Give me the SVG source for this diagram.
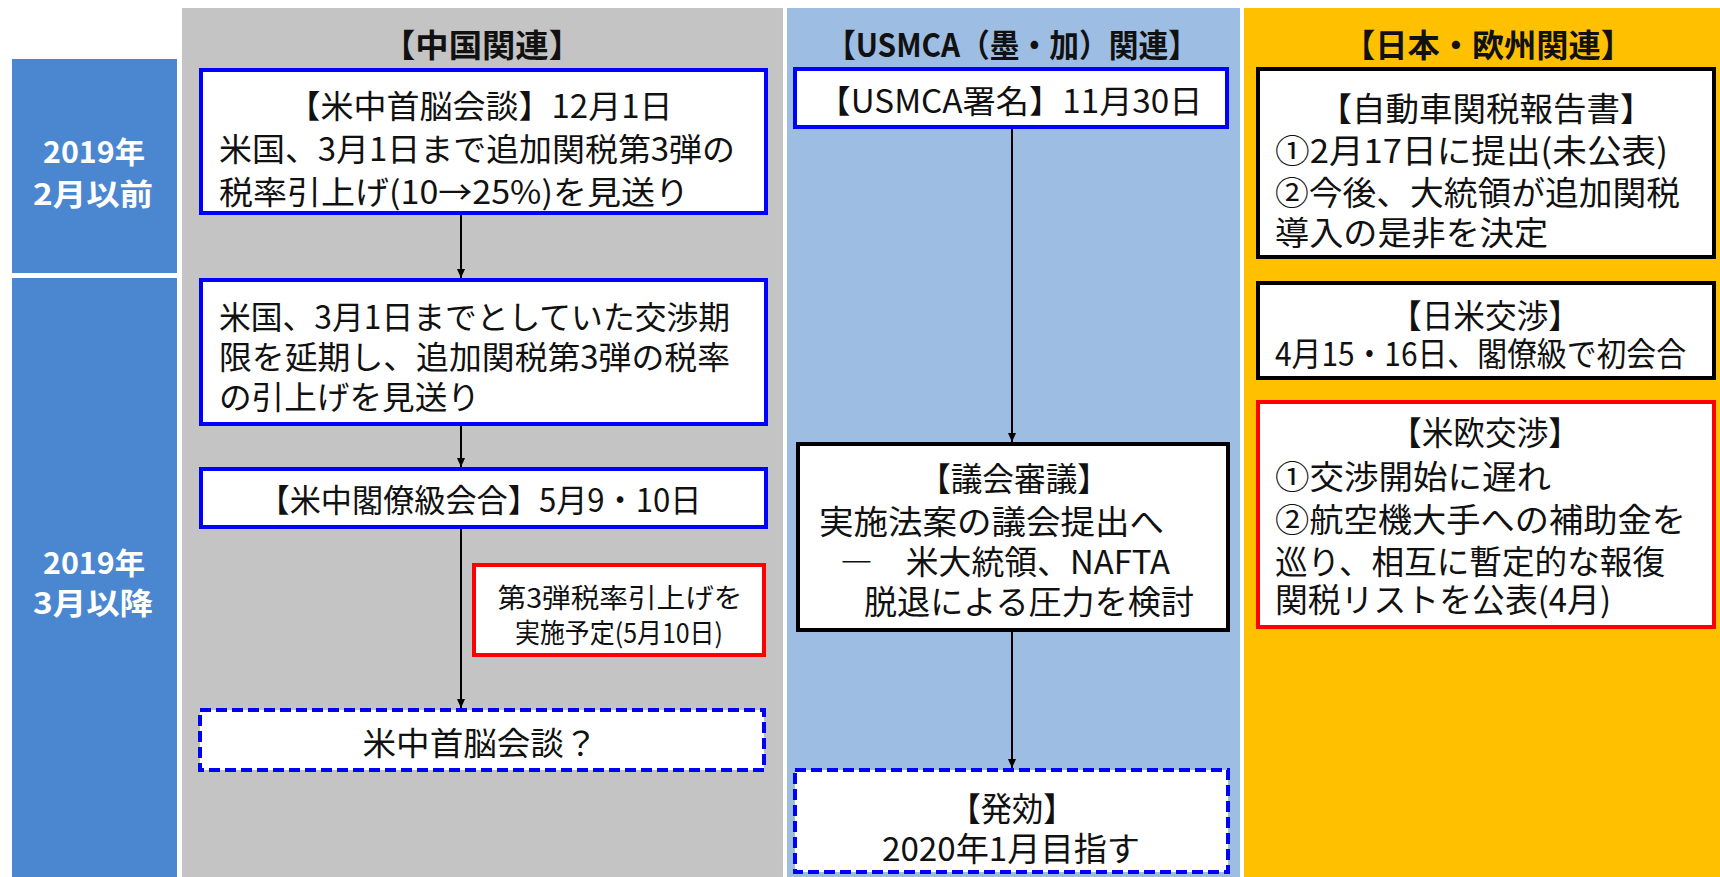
<svg xmlns="http://www.w3.org/2000/svg" width="1720" height="877" viewBox="0 0 1720 877">
<style>
text{font-family:"Noto Sans CJK JP","Noto Sans",sans-serif;fill:#111;dominant-baseline:central}
.hdr{font-size:32px;font-weight:bold;text-anchor:middle}
.lbl{font-size:30px;font-weight:bold;fill:#fff;text-anchor:middle}
.t32{font-size:32px}
.t33{font-size:33px}
.t27{font-size:27px}
.c{text-anchor:middle}
.box{fill:#fff;stroke-width:4}
.bl{stroke:#0000ff}
.bk{stroke:#000}
.rd{stroke:#ff0000}
.ds{stroke:#0000ff;stroke-dasharray:11 5}
.conn{stroke:#000;stroke-width:2;fill:none;marker-end:url(#ah)}
</style>
<defs>
<marker id="ah" markerUnits="userSpaceOnUse" markerWidth="10" markerHeight="10" refX="9" refY="5" orient="auto">
<path d="M0,1 L9,5 L0,9 Z" fill="#000"/>
</marker>
</defs>
<rect x="0" y="0" width="1720" height="877" fill="#fff"/>
<g id="columns">
<rect x="182" y="8" width="601" height="869" fill="#c4c4c4"/>
<rect x="787" y="8" width="453" height="869" fill="#9dbde2"/>
<rect x="1244" y="8" width="476" height="869" fill="#ffc000"/>
<text class="hdr" x="482" y="43" textLength="200" lengthAdjust="spacingAndGlyphs">【中国関連】</text>
<text class="hdr" x="1012" y="43" textLength="372" lengthAdjust="spacingAndGlyphs">【USMCA（墨・加）関連】</text>
<text class="hdr" x="1488" y="43" textLength="290" lengthAdjust="spacingAndGlyphs">【日本・欧州関連】</text>
</g>
<g id="label-before">
<rect x="12" y="59" width="165" height="214" fill="#4b87d0"/>
<text class="lbl" x="94" y="150" textLength="102" lengthAdjust="spacingAndGlyphs">2019年</text>
<text class="lbl" x="93" y="192" textLength="120" lengthAdjust="spacingAndGlyphs">2月以前</text>
</g>
<g id="label-after">
<rect x="12" y="278" width="165" height="599" fill="#4b87d0"/>
<text class="lbl" x="94" y="561" textLength="102" lengthAdjust="spacingAndGlyphs">2019年</text>
<text class="lbl" x="93" y="601" textLength="120" lengthAdjust="spacingAndGlyphs">3月以降</text>
</g>
<g id="connectors">
<line class="conn" x1="461" y1="215" x2="461" y2="278"/>
<line class="conn" x1="461" y1="426" x2="461" y2="467"/>
<line class="conn" x1="461" y1="529" x2="461" y2="708"/>
<line class="conn" x1="1012" y1="129" x2="1012" y2="442"/>
<line class="conn" x1="1012" y1="632" x2="1012" y2="768"/>
</g>
<g id="n-summit-dec">
<rect class="box bl" x="201" y="70" width="565" height="143"/>
<text class="t32 c" x="480" y="104" textLength="385" lengthAdjust="spacingAndGlyphs">【米中首脳会談】12月1日</text>
<text class="t32" x="219" y="147" textLength="516" lengthAdjust="spacingAndGlyphs">米国、3月1日まで追加関税第3弾の</text>
<text class="t32" x="219" y="190" textLength="470" lengthAdjust="spacingAndGlyphs">税率引上げ(10→25%)を見送り</text>
</g>
<g id="n-extend">
<rect class="box bl" x="201" y="280" width="565" height="144"/>
<text class="t32" x="219" y="315" textLength="511" lengthAdjust="spacingAndGlyphs">米国、3月1日までとしていた交渉期</text>
<text class="t32" x="219" y="355" textLength="511" lengthAdjust="spacingAndGlyphs">限を延期し、追加関税第3弾の税率</text>
<text class="t32" x="219" y="395" textLength="261" lengthAdjust="spacingAndGlyphs">の引上げを見送り</text>
</g>
<g id="n-ministerial">
<rect class="box bl" x="201" y="469" width="565" height="58"/>
<text class="t32 c" x="480" y="498" textLength="443" lengthAdjust="spacingAndGlyphs">【米中閣僚級会合】5月9・10日</text>
</g>
<g id="n-tariff-plan">
<rect class="box rd" x="474" y="565" width="290" height="90"/>
<text class="t27 c" x="620" y="596" textLength="245" lengthAdjust="spacingAndGlyphs">第3弾税率引上げを</text>
<text class="t27 c" x="619" y="631" textLength="208" lengthAdjust="spacingAndGlyphs">実施予定(5月10日)</text>
</g>
<g id="n-summit-next">
<rect class="box ds" x="200" y="710" width="564" height="60"/>
<text class="t32 c" x="480" y="741" textLength="235" lengthAdjust="spacingAndGlyphs">米中首脳会談？</text>
</g>
<g id="n-usmca-sign">
<rect class="box bl" x="795" y="69" width="432" height="58"/>
<text class="t32 c" x="1010" y="99" textLength="385" lengthAdjust="spacingAndGlyphs">【USMCA署名】11月30日</text>
</g>
<g id="n-congress">
<rect class="box bk" x="798" y="444" width="430" height="186"/>
<text class="t33 c" x="1014" y="477" textLength="190" lengthAdjust="spacingAndGlyphs">【議会審議】</text>
<text class="t33" x="819" y="520" textLength="345" lengthAdjust="spacingAndGlyphs">実施法案の議会提出へ</text>
<text class="t33" x="840" y="560" textLength="330" lengthAdjust="spacingAndGlyphs"><tspan font-weight="bold">―</tspan>　米大統領、NAFTA</text>
<text class="t33" x="864" y="600" textLength="330" lengthAdjust="spacingAndGlyphs">脱退による圧力を検討</text>
</g>
<g id="n-effect">
<rect class="box ds" x="795" y="770" width="433" height="102"/>
<text class="t33 c" x="1012" y="807" textLength="125" lengthAdjust="spacingAndGlyphs">【発効】</text>
<text class="t33 c" x="1011" y="847" textLength="258" lengthAdjust="spacingAndGlyphs">2020年1月目指す</text>
</g>
<g id="n-auto-report">
<rect class="box bk" x="1258" y="69" width="456" height="188"/>
<text class="t33 c" x="1486" y="107" textLength="335" lengthAdjust="spacingAndGlyphs">【自動車関税報告書】</text>
<text class="t33" x="1275" y="149" textLength="393" lengthAdjust="spacingAndGlyphs">①2月17日に提出(未公表)</text>
<text class="t33" x="1275" y="191" textLength="405" lengthAdjust="spacingAndGlyphs">②今後、大統領が追加関税</text>
<text class="t33" x="1275" y="231" textLength="273" lengthAdjust="spacingAndGlyphs">導入の是非を決定</text>
</g>
<g id="n-japan-us">
<rect class="box bk" x="1258" y="283" width="456" height="95"/>
<text class="t33 c" x="1485" y="314" textLength="190" lengthAdjust="spacingAndGlyphs">【日米交渉】</text>
<text class="t33" x="1275" y="352" textLength="411" lengthAdjust="spacingAndGlyphs">4月15・16日、閣僚級で初会合</text>
</g>
<g id="n-us-eu">
<rect class="box rd" x="1258" y="402" width="456" height="225"/>
<text class="t33 c" x="1485" y="431" textLength="190" lengthAdjust="spacingAndGlyphs">【米欧交渉】</text>
<text class="t33" x="1275" y="475" textLength="276" lengthAdjust="spacingAndGlyphs">①交渉開始に遅れ</text>
<text class="t33" x="1275" y="518" textLength="411" lengthAdjust="spacingAndGlyphs">②航空機大手への補助金を</text>
<text class="t33" x="1275" y="560" textLength="390" lengthAdjust="spacingAndGlyphs">巡り、相互に暫定的な報復</text>
<text class="t33" x="1275" y="598" textLength="336" lengthAdjust="spacingAndGlyphs">関税リストを公表(4月)</text>
</g>
</svg>
